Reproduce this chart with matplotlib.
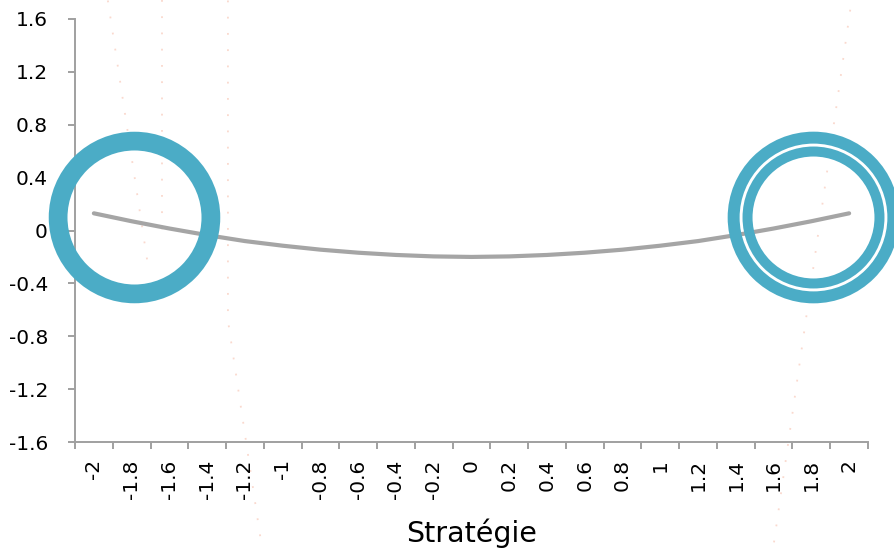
import numpy as np
import matplotlib.pyplot as plt

# categories on the x axis
strategies = ['-2', '-1.8', '-1.6', '-1.4', '-1.2', '-1', '-0.8', '-0.6', '-0.4', '-0.2', '0',
              '0.2', '0.4', '0.6', '0.8', '1', '1.2', '1.4', '1.6', '1.8', '2']
# grey curve
curve = [0.13, 0.07, 0.015, -0.035, -0.08, -0.115, -0.145, -0.168, -0.185, -0.196, -0.2,
         -0.196, -0.185, -0.168, -0.145, -0.115, -0.08, -0.035, 0.015, 0.07, 0.13]
# highlighted points (ring markers)
ring_left = ('-1.8', 0.10)
ring_right = ('1.8', 0.10)
yticks = [-1.6, -1.2, -0.8, -0.4, 0, 0.4, 0.8, 1.2, 1.6]
ylabels = ['-1.6', '-1.2', '-0.8', '-0.4', '0', '0.4', '0.8', '1.2', '1.6']
# faint dotted guide lines (category position, value)
guide1_x = [0.37, 1.43]; guide1_y = [1.74, -0.26]
guide2_x = [1.80, 1.80]; guide2_y = [1.74, -0.07]
guide3_x = [3.55, 3.55, 4.45]; guide3_y = [1.74, -0.68, -2.40]
guide4_x = [20.03, 17.99]; guide4_y = [1.67, -2.40]

blue = '#4BACC6'
grey = '#A5A5A5'
axc = '#A0A0A0'

plt.rcParams['font.family'] = ['DejaVu Sans']

fig = plt.figure(figsize=(8.94, 5.52), dpi=100)
ax = fig.add_axes([75/894, 1-442/552, 793/894, 423/552])

pos = np.arange(len(strategies))

for gx, gy in [(guide1_x, guide1_y), (guide2_x, guide2_y), (guide3_x, guide3_y), (guide4_x, guide4_y)]:
    ax.plot(gx, gy, color='#FAD9CE', lw=1.3, dashes=[1, 8], clip_on=False, zorder=1)

ax.plot(pos, curve, color=grey, lw=3.0, solid_capstyle='round', zorder=3)

xl = strategies.index(ring_left[0]) + 0.05
ax.plot([xl], [ring_left[1]], 'o', ms=110, mfc='none', mec=blue, mew=13.5, clip_on=False, zorder=5)
xr = strategies.index(ring_right[0]) + 0.05
ax.plot([xr], [ring_right[1]], 'o', ms=115, mfc='none', mec=blue, mew=8.6, clip_on=False, zorder=5)
ax.plot([xr], [ring_right[1]], 'o', ms=95, mfc='none', mec=blue, mew=7.2, clip_on=False, zorder=5)

ax.set_xlim(-0.5, len(strategies) - 0.5)
ax.set_ylim(-1.6, 1.6)
ax.set_xticks(pos)
ax.set_xticklabels(strategies, rotation=90, fontsize=14.5)
ax.set_xticks(np.arange(len(strategies) + 1) - 0.5, minor=True)
ax.tick_params(axis='x', which='major', length=0, pad=12.5)
ax.tick_params(axis='x', which='minor', length=5, width=1.4, color=axc, direction='out')
ax.set_yticks(yticks)
ax.set_yticklabels(ylabels, fontsize=14.5)
ax.tick_params(axis='y', length=5, width=1.4, color=axc, direction='out', pad=14.5)

for s in ['top', 'right']:
    ax.spines[s].set_visible(False)
for s in ['left', 'bottom']:
    ax.spines[s].set_color(axc)
    ax.spines[s].set_linewidth(1.4)

ax.set_xlabel('Stratégie', fontsize=20.5, labelpad=14)

fig.savefig('out.png', dpi=100)
